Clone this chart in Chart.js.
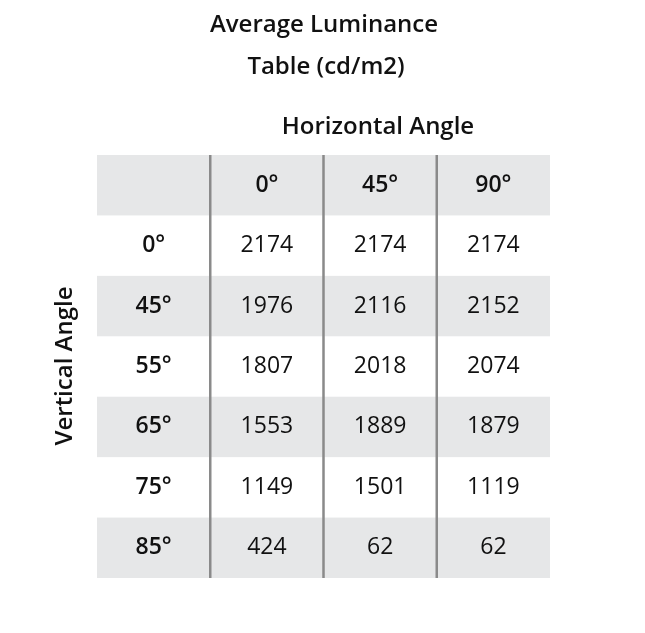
<!DOCTYPE html>
<html><head><meta charset="utf-8">
<script src="https://cdn.jsdelivr.net/npm/chart.js@4"></script>
<style>body{margin:0;background:#fff}#w{width:645px;height:633px}</style>
</head><body><div id="w"><canvas id="c" width="645" height="633"></canvas></div>
<script>
const titleLines = ["Average Luminance", "Table (cd/m2)"];
const colTitle = "Horizontal Angle";
const rowTitle = "Vertical Angle";
const horizontalAngles = ["0°", "45°", "90°"];
const verticalAngles = ["0°", "45°", "55°", "65°", "75°", "85°"];
const lum0 = [2174, 1976, 1807, 1553, 1149, 424];
const lum45 = [2174, 2116, 2018, 1889, 1501, 62];
const lum90 = [2174, 2152, 2074, 1879, 1119, 62];
const series = [lum0, lum45, lum90];

const FONT = "'Open Sans', sans-serif";
const tablePlugin = {
  id: 'table',
  afterDraw(chart) {
    const ctx = chart.ctx, x = chart.scales.x, y = chart.scales.y;
    const nRows = verticalAngles.length + 1;
    const L = x.getPixelForValue(0), R = x.getPixelForValue(4);
    ctx.save();
    ctx.fillStyle = '#e6e7e8';
    for (let r = 0; r < nRows; r += 2) {
      const t = y.getPixelForValue(r), b = y.getPixelForValue(r + 1);
      ctx.fillRect(L, t, R - L, b - t);
    }
    ctx.strokeStyle = '#8a8a8a'; ctx.lineWidth = 2.5;
    for (let c = 1; c <= 3; c++) {
      const px = x.getPixelForValue(c);
      ctx.beginPath(); ctx.moveTo(px, y.getPixelForValue(0)); ctx.lineTo(px, y.getPixelForValue(nRows)); ctx.stroke();
    }
    ctx.fillStyle = '#111'; ctx.textAlign = 'center'; ctx.textBaseline = 'middle';
    ctx.font = "600 23px " + FONT;
    horizontalAngles.forEach((h, i) => ctx.fillText(h, x.getPixelForValue(i + 1.5), y.getPixelForValue(0.5)));
    verticalAngles.forEach((v, i) => ctx.fillText(v, x.getPixelForValue(0.5), y.getPixelForValue(i + 1.5)));
    ctx.font = "23px " + FONT;
    series.forEach((s, c) => s.forEach((val, r) =>
      ctx.fillText(String(val), x.getPixelForValue(c + 1.5), y.getPixelForValue(r + 1.5))));
    ctx.font = "600 24px " + FONT;
    ctx.fillText(titleLines[0], 324, 25);
    ctx.fillText(titleLines[1], 326, 67);
    ctx.fillText(colTitle, 378, 127);
    ctx.translate(65, 366); ctx.rotate(-Math.PI / 2);
    ctx.fillText(rowTitle, 0, 0);
    ctx.restore();
  }
};

new Chart(document.getElementById('c'), {
  type: 'scatter',
  data: { datasets: [{ data: [] }] },
  options: {
    responsive: false, animation: false,
    layout: { padding: { left: 97, right: 95, top: 155, bottom: 55 } },
    plugins: { legend: { display: false }, tooltip: { enabled: false } },
    scales: {
      x: { type: 'linear', min: 0, max: 4, display: false },
      y: { type: 'linear', min: 0, max: verticalAngles.length + 1, reverse: true, display: false }
    }
  },
  plugins: [tablePlugin]
});
</script></body></html>
